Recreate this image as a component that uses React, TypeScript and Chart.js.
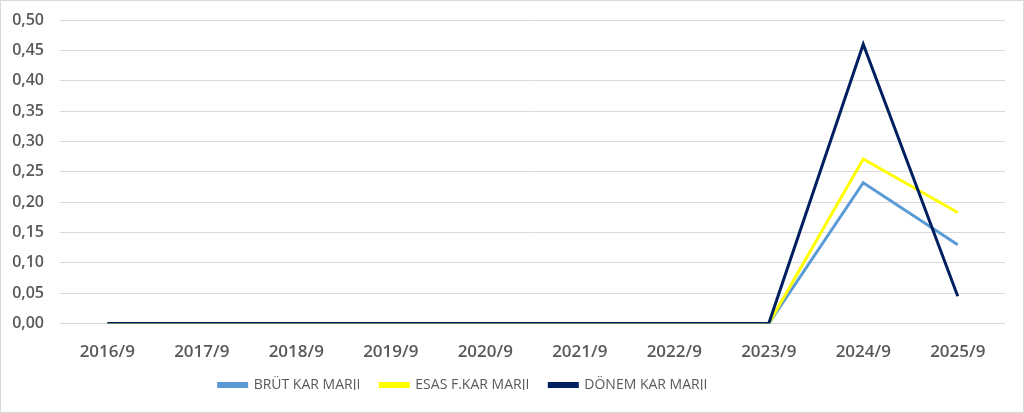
import { useEffect, useRef } from 'react';
import Chart from 'chart.js/auto';

const categories = ['2016/9', '2017/9', '2018/9', '2019/9', '2020/9', '2021/9', '2022/9', '2023/9', '2024/9', '2025/9'];
const brutKarMarji = [0, 0, 0, 0, 0, 0, 0, 0, 0.232, 0.13];
const esasFaaliyetKarMarji = [0, 0, 0, 0, 0, 0, 0, 0, 0.271, 0.183];
const donemKarMarji = [0, 0, 0, 0, 0, 0, 0, 0, 0.46, 0.045];

const FONT = '"Open Sans", "Liberation Sans", sans-serif';
const TEXT_COLOR = '#595959';
const GRID_COLOR = '#d9d9d9';

// excel puts the legend tighter under the axis and a bit left of centre
const legendNudge = {
  id: 'legendNudge',
  beforeLayout(chart: any) {
    const lg = chart.legend;
    if (!lg || lg._trimmed) return;
    const fit = lg.fit;
    lg.fit = function () {
      fit.call(this);
      this.height -= 12;
    };
    lg._trimmed = true;
  },
  afterLayout(chart: any) {
    const lg = chart.legend;
    if (!lg) return;
    lg.top -= 22;
    lg.bottom -= 22;
    lg.left -= 40;
    lg.right -= 40;
  },
};

export default function App() {
  const chartRef = useRef<HTMLCanvasElement>(null);
  const chartInstance = useRef<Chart | null>(null);

  useEffect(() => {
    document.body.style.margin = '0';
    if (!chartRef.current) return;
    if (chartInstance.current) chartInstance.current.destroy();

    const ctx = chartRef.current.getContext('2d');
    if (!ctx) return;

    chartInstance.current = new Chart(ctx, {
      type: 'line',
      data: {
        labels: categories,
        datasets: [
          {
            label: 'BRÜT KAR MARJI',
            data: brutKarMarji,
            borderColor: '#5b9bd5',
            backgroundColor: '#5b9bd5',
            borderWidth: 3,
            pointRadius: 0,
            tension: 0,
            order: 3,
          },
          {
            label: 'ESAS F.KAR MARJI',
            data: esasFaaliyetKarMarji,
            borderColor: '#ffff00',
            backgroundColor: '#ffff00',
            borderWidth: 3,
            pointRadius: 0,
            tension: 0,
            order: 2,
          },
          {
            label: 'DÖNEM KAR MARJI',
            data: donemKarMarji,
            borderColor: '#002060',
            backgroundColor: '#002060',
            borderWidth: 3,
            pointRadius: 0,
            tension: 0,
            order: 1,
          },
        ],
      },
      plugins: [legendNudge],
      options: {
        animation: false,
        responsive: true,
        maintainAspectRatio: false,
        layout: { padding: { top: 19, right: 18, bottom: 0, left: 0 } },
        plugins: {
          tooltip: { enabled: false },
          legend: {
            position: 'bottom',
            labels: {
              boxWidth: 28,
              boxHeight: 3,
              padding: 20,
              color: TEXT_COLOR,
              font: { family: FONT, size: 14 },
              sort: (a: any, b: any) => a.datasetIndex - b.datasetIndex,
            },
          },
        },
        scales: {
          x: {
            offset: true,
            grid: { display: false, drawTicks: false },
            border: { display: false },
            ticks: {
              padding: 18,
              color: TEXT_COLOR,
              font: { family: FONT, size: 17, weight: 600 },
              maxRotation: 0,
            },
          },
          y: {
            min: 0,
            max: 0.5,
            grid: { color: GRID_COLOR, drawTicks: false },
            border: { display: false },
            afterFit: (scale: any) => {
              scale.width = 59;
              scale.paddingTop = 0;
              scale.paddingBottom = 0;
            },
            ticks: {
              stepSize: 0.05,
              padding: 16,
              color: TEXT_COLOR,
              font: { family: FONT, size: 16, weight: 600 },
              callback: (v: any) => Number(v).toFixed(2).replace('.', ','),
            },
          },
        },
      },
    });

    return () => {
      if (chartInstance.current) {
        chartInstance.current.destroy();
        chartInstance.current = null;
      }
    };
  }, []);

  return (
    <div
      style={{
        width: 1024,
        height: 413,
        boxSizing: 'border-box',
        border: '1px solid #d9d9d9',
        background: '#fff',
        position: 'relative',
      }}
    >
      <canvas ref={chartRef} />
    </div>
  );
}
